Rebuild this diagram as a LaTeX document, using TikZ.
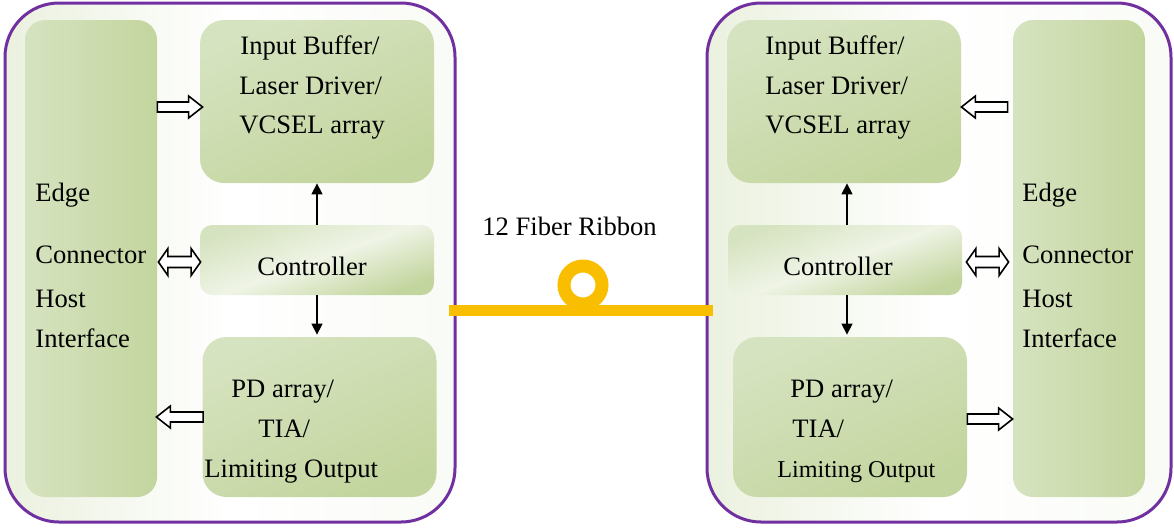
\documentclass[tikz,border=0pt]{standalone}
\usepackage{fontspec}
\setmainfont{Liberation Serif}
\newfontfamily\tms{Liberation Serif}
\usetikzlibrary{calc,arrows.meta}
\definecolor{purp}{HTML}{7030A0}
\definecolor{gold}{RGB}{250,190,0}
\definecolor{gD}{HTML}{C3D59E}
\definecolor{gM}{HTML}{D6E3C0}
\definecolor{gL}{HTML}{EFF4E6}
\definecolor{bgA}{HTML}{EBF1DF}
\definecolor{bgB}{HTML}{F9FBF6}
\def\arS{2.5pt}\def\arW{5.5pt}\def\arH{7pt}
\def\dbS{2.75pt}\def\dbW{6.75pt}\def\dbH{4.75pt}
\newcommand\blockarr[3]{%
  \draw[holl] let \p1=(#1), \p2=(#2), \p3=(#3), \n1={sign(\x2-\x1)} in
  (\x1,{\y3+\arS}) -- ({\x2-(\n1)*\arH},{\y3+\arS}) -- ({\x2-(\n1)*\arH},{\y3+\arW})
  -- (\x2,\y3) -- ({\x2-(\n1)*\arH},{\y3-\arW}) -- ({\x2-(\n1)*\arH},{\y3-\arS})
  -- (\x1,{\y3-\arS}) -- cycle;}
\newcommand\dblarr[3]{%
  \draw[holl] let \p1=(#1), \p2=(#2), \p3=(#3), \n1={sign(\x2-\x1)} in
  (\x1,\y3) -- ({\x1+(\n1)*\dbH},{\y3+\dbW}) -- ({\x1+(\n1)*\dbH},{\y3+\dbS})
  -- ({\x2-(\n1)*\dbH},{\y3+\dbS}) -- ({\x2-(\n1)*\dbH},{\y3+\dbW}) -- (\x2,\y3)
  -- ({\x2-(\n1)*\dbH},{\y3-\dbW}) -- ({\x2-(\n1)*\dbH},{\y3-\dbS})
  -- ({\x1+(\n1)*\dbH},{\y3-\dbS}) -- ({\x1+(\n1)*\dbH},{\y3-\dbW}) -- cycle;}
\tikzset{
  outerbox/.style={draw=purp, line width=1.5pt, rounded corners=27pt,
    left color=bgA, right color=bgB, middle color=white, minimum width=#1, minimum height=259.5pt},
  edgecol/.style={rounded corners=10pt, left color=gM, middle color=gL, right color=gD,
    minimum width=66pt, minimum height=238.5pt},
  blockbox/.style={rounded corners=12pt, top color=gM, middle color=gL, bottom color=gD,
    shading angle=25, minimum width=117pt, minimum height=#1},
  ctlbox/.style={rounded corners=6pt, top color=gM, bottom color=gD, middle color=gL,
    shading angle=20, minimum width=117pt, minimum height=35pt},
  txt/.style={font=\tms\fontsize{13.3}{16}\selectfont, inner sep=0pt, anchor=base west},
  holl/.style={draw=black, fill=white, line width=0.8pt, line join=miter},
  blk/.style={draw=black, line width=0.7pt, -{Triangle[length=5.5pt,width=5.5pt]}},
  fiber/.style={draw=gold, line width=5.5pt},
}
\begin{document}
\begin{tikzpicture}[x=0.5pt, y=-0.5pt]
\useasboundingbox (0,0) rectangle (1174,527);
% outer boxes
\node[outerbox=225pt] (outL) at (230,262.5) {};
\node[outerbox=232pt] (outR) at (939,262.5) {};
% left module
\node[edgecol] (edgeL) at (91,258.5) {};
\node[blockbox=81.5pt] (ibL) at (317,101.5) {};
\node[ctlbox] (ctlL) at (317,260) {};
\node[blockbox=80pt] (pdL) at (319.5,417) {};
% right module
\node[edgecol] (edgeR) at (1079,258.5) {};
\node[blockbox=81.5pt] (ibR) at (844,101.5) {};
\node[ctlbox] (ctlR) at (845,260) {};
\node[blockbox=80pt] (pdR) at (850,417) {};
% texts left
\node[txt] (tL1) at (240,54) {Input Buffer/};
\node[txt] (tL2) at (239,94) {Laser Driver/};
\node[txt] (tL3) at (239,133) {VCSEL array};
\node[txt] (eL1) at (35,201) {Edge};
\node[txt] (eL2) at (35,263) {Connector};
\node[txt] (eL3) at (35,307) {Host};
\node[txt] (eL4) at (35,347) {Interface};
\node[txt] (cL) at (257,275) {Controller};
\node[txt] (pL1) at (231,397) {PD array/};
\node[txt] (pL2) at (258,437) {TIA/};
\node[txt] (pL3) at (204,477) {Limiting Output};
% texts right
\node[txt] (tR1) at (765,54) {Input Buffer/};
\node[txt] (tR2) at (765,94) {Laser Driver/};
\node[txt] (tR3) at (765,133) {VCSEL array};
\node[txt] (eR1) at (1022,201) {Edge};
\node[txt] (eR2) at (1022,263) {Connector};
\node[txt] (eR3) at (1022,307) {Host};
\node[txt] (eR4) at (1022,347) {Interface};
\node[txt] (cR) at (783,275) {Controller};
\node[txt] (pR1) at (790,397) {PD array/};
\node[txt] (pR2) at (792,437) {TIA/};
\node[txt, font=\tms\fontsize{12.1}{15}\selectfont] (pR3) at (777,477) {Limiting Output};
% fiber
\node[txt] (fib) at (482,235) {12 Fiber Ribbon};
\draw[fiber] ([xshift=-4pt,yshift=-24pt]outL.east) -- ([xshift=3.5pt,yshift=-24pt]outR.west);
\node[circle, draw=gold, line width=6.5pt, minimum size=19pt, inner sep=0pt] (ring) at (583,285) {};
% hollow arrows left
\blockarr{edgeL.east}{[xshift=1.5pt]ibL.west}{[yshift=-2.75pt]ibL.west}
\dblarr{[xshift=0.5pt]edgeL.east}{[xshift=0.5pt]ctlL.west}{[yshift=-1pt]ctlL.west}
\blockarr{[xshift=0.5pt]pdL.west}{[xshift=-0.5pt]edgeL.east}{pdL.west}
% hollow arrows right
\blockarr{[xshift=-2.5pt]edgeR.west}{ibR.east}{[yshift=-2.75pt]ibR.east}
\dblarr{[xshift=2pt]ctlR.east}{[xshift=-2pt]edgeR.west}{[yshift=-1pt]ctlR.east}
\blockarr{pdR.east}{edgeR.west}{[yshift=-1pt]pdR.east}
% control arrows
\draw[blk] (ctlL.north) -- (ctlL.north |- ibL.south);
\draw[blk] (ctlL.south) -- ([yshift=1pt]ctlL.south |- pdL.north);
\draw[blk] ([xshift=1pt]ctlR.north) -- ([xshift=1pt]ctlR.north |- ibR.south);
\draw[blk] ([xshift=1pt]ctlR.south) -- ([xshift=1pt,yshift=1pt]ctlR.south |- pdR.north);
\end{tikzpicture}
\end{document}
